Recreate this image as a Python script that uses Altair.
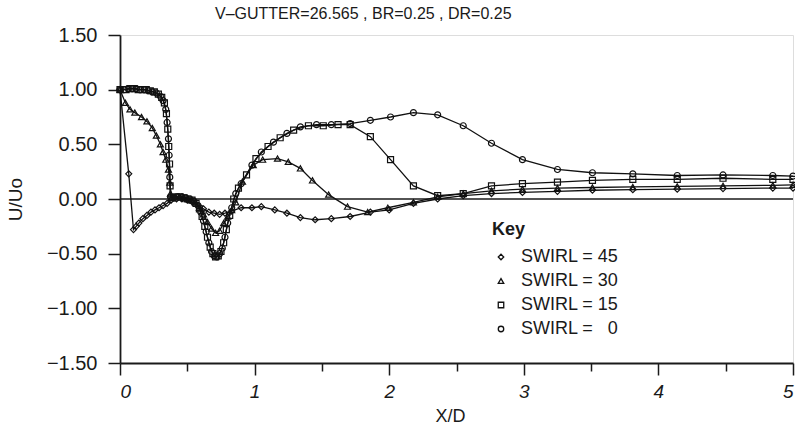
import altair as alt
import pandas as pd

# ---- data ----
series_names = ["SWIRL = 45", "SWIRL = 30", "SWIRL = 15", "SWIRL = \u20070"]

x45 = [0, 0.065, 0.10, 0.12, 0.14, 0.17, 0.20, 0.23, 0.26, 0.29, 0.32, 0.35,
       0.38, 0.42, 0.46, 0.50, 0.54, 0.58, 0.62, 0.66, 0.70, 0.74, 0.78, 0.83, 0.90, 0.98, 1.05,
       1.15, 1.24, 1.34, 1.45, 1.57, 1.71, 1.86, 2.00, 2.18, 2.36, 2.55, 2.76, 2.99, 3.25, 3.51,
       3.81, 4.14, 4.48, 4.85, 5.0]
y45 = [1.0, 0.23, -0.28, -0.25, -0.22, -0.18, -0.15, -0.12, -0.10, -0.08, -0.06, -0.04,
       -0.01, 0.0, 0.0, -0.01, -0.03, -0.06, -0.09, -0.12, -0.13, -0.14, -0.13, -0.11, -0.08, -0.08, -0.07,
       -0.10, -0.13, -0.17, -0.19, -0.18, -0.16, -0.12, -0.10, -0.04, 0.0, 0.03, 0.05, 0.06, 0.07, 0.08,
       0.085, 0.09, 0.095, 0.10, 0.10]

x30 = [0, 0.04, 0.074, 0.11, 0.16, 0.20, 0.24, 0.27, 0.30, 0.32, 0.34, 0.36, 0.37, 0.375, 0.38,
       0.41, 0.44, 0.47, 0.50, 0.53, 0.56, 0.59, 0.62, 0.65, 0.68, 0.71, 0.74, 0.77, 0.80, 0.83,
       0.86, 0.91, 0.99, 1.06, 1.17, 1.25, 1.34, 1.43, 1.55, 1.69, 1.84, 1.99, 2.18, 2.36, 2.55,
       2.76, 2.99, 3.25, 3.51, 3.81, 4.14, 4.48, 4.85, 5.0]
y30 = [1.0, 0.88, 0.82, 0.79, 0.75, 0.71, 0.65, 0.58, 0.50, 0.43, 0.36, 0.27, 0.15, 0.05, 0.01,
       0.02, 0.02, 0.01, 0.0, -0.01, -0.03, -0.08, -0.14, -0.21, -0.27, -0.31, -0.29, -0.22, -0.16, -0.10,
       -0.03, 0.16, 0.31, 0.36, 0.37, 0.34, 0.28, 0.17, 0.04, -0.07, -0.12, -0.08, -0.03, 0.02, 0.05,
       0.075, 0.09, 0.10, 0.105, 0.11, 0.115, 0.12, 0.125, 0.13]

x15 = [0, 0.045, 0.075, 0.105, 0.135, 0.165, 0.195, 0.225, 0.255, 0.285, 0.31, 0.33, 0.345, 0.355, 0.362,
       0.368, 0.372, 0.385, 0.415, 0.445, 0.475, 0.505, 0.535, 0.565, 0.59, 0.61, 0.63, 0.65, 0.67,
       0.69, 0.71, 0.73, 0.75, 0.77, 0.79, 0.815, 0.845, 0.88, 0.94, 1.01, 1.10, 1.19, 1.29, 1.40,
       1.51, 1.62, 1.71, 1.86, 2.01, 2.18, 2.36, 2.55, 2.76, 2.99, 3.25, 3.51, 3.81, 4.14, 4.48,
       4.85, 5.0]
y15 = [1.0, 1.0, 1.01, 1.01, 1.0, 1.0, 1.0, 0.99, 0.98, 0.96, 0.93, 0.88, 0.78, 0.64, 0.48,
       0.32, 0.12, 0.01, 0.02, 0.02, 0.01, 0.0, -0.01, -0.04, -0.09, -0.16, -0.25, -0.35, -0.44,
       -0.50, -0.53, -0.52, -0.48, -0.40, -0.28, -0.15, 0.0, 0.10, 0.22, 0.37, 0.48, 0.56, 0.63, 0.67,
       0.67, 0.68, 0.68, 0.57, 0.36, 0.12, 0.03, 0.05, 0.12, 0.14, 0.155, 0.17, 0.18, 0.18, 0.19,
       0.18, 0.18]

x0 = [0, 0.03, 0.06, 0.09, 0.12, 0.15, 0.18, 0.21, 0.24, 0.27, 0.30, 0.32, 0.34, 0.35, 0.36,
      0.365, 0.37, 0.375, 0.40, 0.43, 0.46, 0.49, 0.52, 0.55, 0.58, 0.60, 0.62, 0.64, 0.66,
      0.68, 0.70, 0.72, 0.74, 0.76, 0.78, 0.80, 0.83, 0.86, 0.90, 0.98, 1.05, 1.14, 1.24, 1.34,
      1.46, 1.57, 1.71, 1.86, 2.01, 2.18, 2.36, 2.55, 2.76, 2.99, 3.25, 3.51, 3.81, 4.14, 4.48,
      4.85, 5.0]
y0 = [1.0, 1.0, 1.01, 1.01, 1.01, 1.0, 1.0, 0.99, 0.98, 0.97, 0.94, 0.90, 0.82, 0.70, 0.55,
      0.40, 0.20, 0.02, 0.01, 0.02, 0.02, 0.01, 0.0, -0.02, -0.06, -0.12, -0.20, -0.30, -0.40,
      -0.48, -0.52, -0.53, -0.50, -0.45, -0.35, -0.22, -0.08, 0.05, 0.14, 0.31, 0.43, 0.52, 0.60, 0.66,
      0.68, 0.68, 0.69, 0.72, 0.75, 0.79, 0.77, 0.67, 0.51, 0.36, 0.27, 0.24, 0.23, 0.215, 0.22,
      0.215, 0.21]

x_ticks = [0, 0.5, 1, 1.5, 2, 2.5, 3, 3.5, 4, 4.5, 5]
y_ticks = [-1.5, -1.25, -1.0, -0.75, -0.5, -0.25, 0.0, 0.25, 0.5, 0.75, 1.0, 1.25, 1.5]
title_text = "V\u2013GUTTER=26.565 , BR=0.25 , DR=0.25"

rows = []
for name, xs, ys in zip(series_names, [x45, x30, x15, x0], [y45, y30, y15, y0]):
    for i, (a, b) in enumerate(zip(xs, ys)):
        rows.append({"series": name, "x": a, "y": b, "i": i})
df = pd.DataFrame(rows)

FONT = "Liberation Sans"
INK = "#1a1a1a"

x_enc = alt.X("x:Q", scale=alt.Scale(domain=[0, 5], nice=False, zero=False),
              axis=alt.Axis(values=x_ticks, title="X/D", grid=False,
                            labelExpr="datum.value % 1 === 0 ? format(datum.value, 'd') : ''",
                            labelFontStyle="italic", labelFontSize=19, labelFont=FONT,
                            labelColor=INK, labelPadding=7,
                            tickSize={"condition": {"test": "datum.value % 1 === 0", "value": 12}, "value": 8},
                            tickColor=INK, tickWidth=1.5, domainColor=INK, domainWidth=1.8,
                            titleFont=FONT, titleFontSize=18, titleFontWeight="normal",
                            titleColor=INK, titleX=330, titleY=53, titleBaseline="middle"))
y_enc = alt.Y("y:Q", scale=alt.Scale(domain=[-1.5, 1.5], nice=False, zero=False),
              axis=alt.Axis(values=y_ticks, title="U/Uo", grid=False,
                            labelExpr="datum.value % 0.5 === 0 ? format(datum.value, '.2f') : ''",
                            labelFontSize=20, labelFont=FONT, labelColor=INK, labelPadding=11,
                            tickSize={"condition": {"test": "datum.value % 0.5 === 0", "value": 12}, "value": 8},
                            tickColor=INK, tickWidth=1.5, domainColor=INK, domainWidth=1.8,
                            titleFont=FONT, titleFontSize=19, titleFontWeight="normal",
                            titleColor=INK, titleX=-105, titleY=164, titleBaseline="middle",
                            titleAngle=270))

base = alt.Chart(df)

zero_line = alt.Chart(pd.DataFrame({"z": [0]})).mark_rule(color=INK, strokeWidth=1.4).encode(
    y=alt.datum(0, type="quantitative", scale=alt.Scale(domain=[-1.5, 1.5])),
)

lines = base.mark_line(color="#111", strokeWidth=1.3).encode(
    x=x_enc, y=y_enc, detail="series:N", order="i:Q"
)

points = base.mark_point(filled=False, color="#111", size=36, strokeWidth=1.2, opacity=1).encode(
    x="x:Q", y="y:Q",
    shape=alt.Shape("series:N",
                    scale=alt.Scale(domain=series_names,
                                    range=["diamond", "triangle-up", "square", "circle"]),
                    legend=alt.Legend(title="Key", orient="none", legendX=372, legendY=186,
                                      titleFont=FONT, titleFontSize=18, titleFontWeight="bold",
                                      titleColor=INK, titlePadding=9,
                                      labelFont=FONT, labelFontSize=18, labelColor=INK,
                                      labelOffset=11, symbolSize=30, symbolStrokeWidth=1.3,
                                      symbolStrokeColor="#111", rowPadding=6)),
)

chart = alt.layer(zero_line, lines, points).properties(
    width=673, height=328,
    title=alt.TitleParams(title_text, anchor="start", frame="group", dx=95, offset=3,
                          font=FONT, fontSize=16, fontWeight="normal", color=INK),
    autosize=alt.AutoSizeParams(type="none"),
    padding={"left": 120, "top": 35, "right": 2, "bottom": 65},
).configure_view(stroke=INK, strokeWidth=1.8).configure(background="white")

chart.save("out.html", embed_options={"renderer": "svg", "actions": False})
